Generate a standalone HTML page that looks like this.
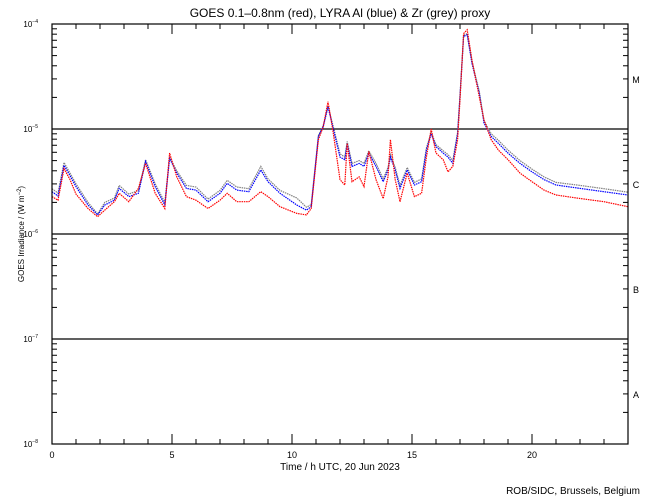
<!DOCTYPE html>
<html><head><meta charset="utf-8"><style>
body{margin:0;background:#fff;}
svg{display:block;font-family:"Liberation Sans",sans-serif;}
</style></head><body>
<svg id="chart" width="650" height="500">
<rect width="650" height="500" fill="#fff"/>
<text x="340" y="17" font-size="12" text-anchor="middle">GOES 0.1–0.8nm (red), LYRA Al (blue) &amp; Zr (grey) proxy</text>
<g id="grid"></g><g id="series"></g><g id="axes"></g>
<text x="340" y="470" font-size="10" text-anchor="middle">Time / h UTC, 20 Jun 2023</text>
<text transform="translate(24,234) rotate(-90)" font-size="8" text-anchor="middle">GOES Irradiance / (W m<tspan dy="-3" font-size="6">−2</tspan><tspan dy="3">)</tspan></text>
<text x="640" y="494" font-size="10" text-anchor="end">ROB/SIDC, Brussels, Belgium</text>
</svg>
<script>
const hours=[0,0.25,0.5,0.75,1,1.5,1.9,2.2,2.6,2.8,3.2,3.6,3.9,4.3,4.7,4.9,5.2,5.6,6,6.5,7,7.3,7.7,8.2,8.7,9,9.5,10.2,10.6,10.8,11.1,11.3,11.5,11.7,12,12.2,12.3,12.5,12.8,13,13.2,13.5,13.8,14,14.1,14.3,14.5,14.8,15.1,15.4,15.6,15.8,16,16.3,16.5,16.7,16.9,17,17.15,17.3,17.5,17.8,18,18.3,18.6,19,19.5,20,20.5,21,22,23,24];
const redVals=[2.27e-6,2.1e-6,4.2e-6,3.3e-6,2.4e-6,1.75e-6,1.46e-6,1.69e-6,2.03e-6,2.44e-6,2.03e-6,2.72e-6,4.7e-6,2.44e-6,1.75e-6,5.9e-6,3.5e-6,2.27e-6,2.1e-6,1.75e-6,2.1e-6,2.44e-6,2.03e-6,2.03e-6,2.53e-6,2.27e-6,1.82e-6,1.57e-6,1.52e-6,1.75e-6,7.9e-6,1.05e-5,1.82e-5,9.8e-6,3.3e-6,2.93e-6,7.3e-6,3.15e-6,3.5e-6,2.83e-6,6.1e-6,3.3e-6,2.18e-6,3.5e-6,7.9e-6,3.3e-6,2.03e-6,3.8e-6,2.27e-6,2.44e-6,5.4e-6,1.0e-5,5.9e-6,5.1e-6,3.9e-6,4.4e-6,7.9e-6,1.9e-5,8.1e-5,8.8e-5,4.5e-5,2.04e-5,1.22e-5,7.9e-6,6.3e-6,5.1e-6,3.8e-6,3.15e-6,2.62e-6,2.35e-6,2.18e-6,2.03e-6,1.82e-6];
const blueVals=[2.53e-6,2.3e-6,4.5e-6,3.6e-6,2.83e-6,1.89e-6,1.52e-6,1.89e-6,2.1e-6,2.72e-6,2.27e-6,2.44e-6,4.9e-6,2.83e-6,1.89e-6,5.25e-6,3.8e-6,2.72e-6,2.62e-6,2.03e-6,2.44e-6,3.04e-6,2.62e-6,2.53e-6,4.07e-6,3.15e-6,2.44e-6,1.89e-6,1.69e-6,1.82e-6,8.5e-6,1.05e-5,1.63e-5,1.05e-5,5.4e-6,5.1e-6,7.3e-6,4.4e-6,4.7e-6,4.4e-6,5.9e-6,4.4e-6,3.15e-6,4.07e-6,5.4e-6,4.07e-6,2.72e-6,4.07e-6,2.93e-6,3.15e-6,6.3e-6,9.0e-6,6.8e-6,5.9e-6,5.4e-6,4.7e-6,9.0e-6,2.04e-5,7.6e-5,7.9e-5,4.2e-5,2.2e-5,1.14e-5,8.5e-6,7.3e-6,5.9e-6,4.7e-6,3.9e-6,3.3e-6,2.93e-6,2.72e-6,2.53e-6,2.35e-6];
const greyVals=[2.7e-6,2.45e-6,4.8e-6,3.8e-6,3.0e-6,2.0e-6,1.55e-6,2.0e-6,2.2e-6,2.9e-6,2.4e-6,2.6e-6,5.1e-6,3.0e-6,2.0e-6,5.4e-6,4.0e-6,2.9e-6,2.8e-6,2.15e-6,2.6e-6,3.25e-6,2.8e-6,2.7e-6,4.4e-6,3.35e-6,2.6e-6,2.2e-6,1.8e-6,1.9e-6,8.7e-6,1.08e-5,1.65e-5,1.1e-5,5.8e-6,5.4e-6,7.6e-6,4.7e-6,5.0e-6,4.7e-6,6.2e-6,4.7e-6,3.35e-6,4.3e-6,5.7e-6,4.3e-6,2.9e-6,4.3e-6,3.1e-6,3.35e-6,6.6e-6,9.3e-6,7.1e-6,6.2e-6,5.7e-6,5.0e-6,9.3e-6,2.1e-5,7.8e-5,8.1e-5,4.4e-5,2.3e-5,1.2e-5,9.0e-6,7.8e-6,6.3e-6,5.0e-6,4.15e-6,3.5e-6,3.1e-6,2.9e-6,2.7e-6,2.5e-6];
const xTicks=[0,5,10,15,20];
const classLabels=["M","C","B","A"];
const yExps=[-4,-5,-6,-7,-8];

const L=52,R=628,T=24,B=444;
const NS="http://www.w3.org/2000/svg";
const xS=h=>L+(R-L)*h/24;
const yS=v=>T+(Math.log10(v)-(-4))/(-4)*(B-T)*-1;
function yOf(v){return T+(-4-Math.log10(v))*(B-T)/4;}
function mk(tag,attrs,parent){const e=document.createElementNS(NS,tag);for(const k in attrs)e.setAttribute(k,attrs[k]);parent.appendChild(e);return e;}
const grid=document.getElementById('grid'),ser=document.getElementById('series'),ax=document.getElementById('axes');

[1e-5,1e-6,1e-7].forEach(v=>{
  const l=mk('line',{x1:L,x2:R,y1:yOf(v),y2:yOf(v),stroke:'#000','stroke-width':1.2},grid);
  
  
});

[['grey',greyVals,'#808080'],['blue',blueVals,'#0000ff'],['red',redVals,'#ff0000']].forEach(([n,vals,c])=>{
  const pts=hours.map((h,i)=>xS(h).toFixed(1)+','+yOf(vals[i]).toFixed(1)).join(' ');
  const p=mk('polyline',{points:pts,fill:'none',stroke:c,'stroke-width':1.2,'stroke-dasharray':'1.5 0.8'},ser);
  
  
});

const fr=mk('rect',{x:L,y:T,width:R-L,height:B-T,fill:'none',stroke:'#000','stroke-width':1.2},ax);



for(let h=0;h<=24;h++){
  const len=h%5===0?10:5,x=xS(h);
  mk('line',{x1:x,x2:x,y1:B,y2:B-len,stroke:'#000'},ax);
  mk('line',{x1:x,x2:x,y1:T,y2:T+len,stroke:'#000'},ax);
}
xTicks.forEach(h=>{
  const t=mk('text',{x:xS(h),y:458,'font-size':9,'text-anchor':'middle'},ax);
  t.textContent=String(h);
  
  
});
for(let e=-8;e<-4;e++){
  for(let m=2;m<=9;m++){
    const y=yOf(m*Math.pow(10,e));
    mk('line',{x1:L,x2:L+5,y1:y,y2:y,stroke:'#000'},ax);
    mk('line',{x1:R,x2:R-5,y1:y,y2:y,stroke:'#000'},ax);
  }
}
yExps.forEach(e=>{
  const t=mk('text',{x:38,y:yOf(Math.pow(10,e))+3,'font-size':8,'text-anchor':'end'},ax);
  t.innerHTML='10<tspan dy="-4" font-size="5">'+(e<0?'−':'')+Math.abs(e)+'</tspan>';
  
  
});
classLabels.forEach((c,i)=>{
  const t=mk('text',{x:636,y:yOf(Math.pow(10,-4-i)*0.3)+4,'font-size':9,'text-anchor':'middle'},ax);
  t.textContent=c;
  
  
});
</script>
</body></html>
